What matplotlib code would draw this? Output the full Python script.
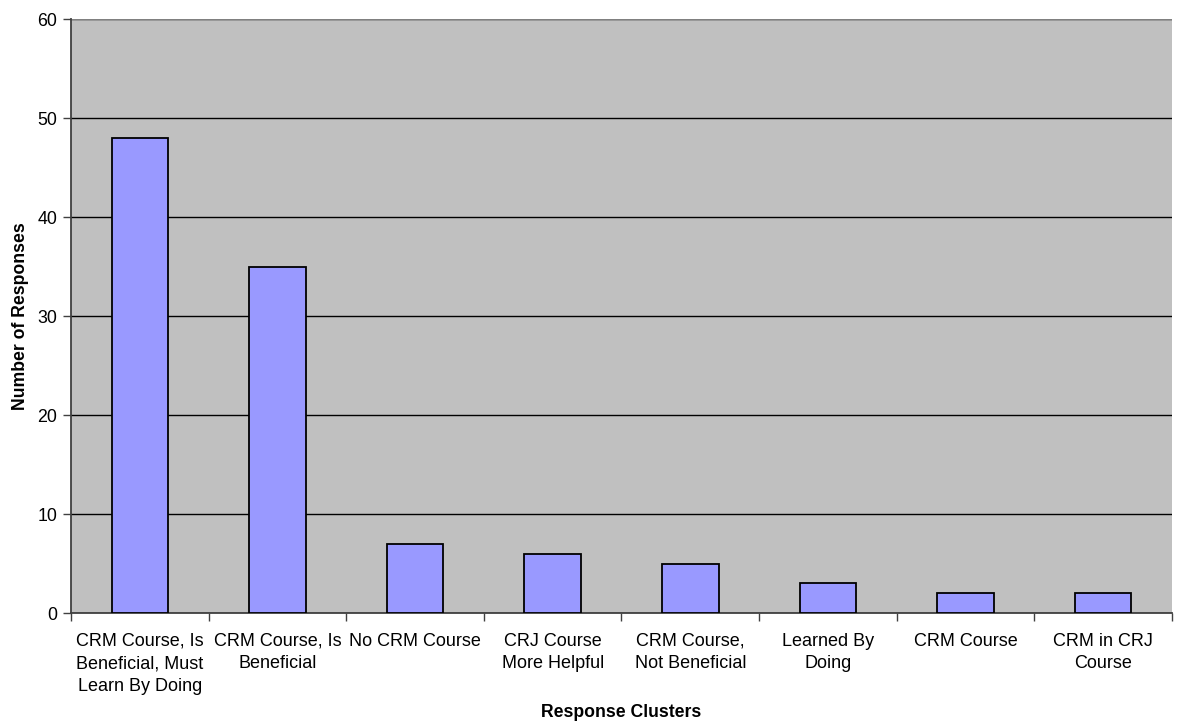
import numpy as np
import matplotlib.pyplot as plt

plt.rcParams['font.family'] = ['Liberation Sans', 'DejaVu Sans']

categories = ["CRM Course, Is\nBeneficial, Must\nLearn By Doing",
              "CRM Course, Is\nBeneficial",
              "No CRM Course",
              "CRJ Course\nMore Helpful",
              "CRM Course,\nNot Beneficial",
              "Learned By\nDoing",
              "CRM Course",
              "CRM in CRJ\nCourse"]
responses = [48, 35, 7, 6, 5, 3, 2, 2]
y_ticks = [0, 10, 20, 30, 40, 50, 60]

fig = plt.figure(figsize=(11.82, 7.23), dpi=100)
ax = fig.add_axes([0.0601, 0.152, 0.9314, 0.8217])
ax.set_facecolor('#C0C0C0')

x = np.arange(len(categories))
ax.bar(x, responses, width=0.41, color='#9999FF', edgecolor='black',
       linewidth=1.3, zorder=3)

ax.set_xlim(-0.5, len(categories) - 0.5)
ax.set_ylim(0, 60)
ax.set_yticks(y_ticks)
ax.yaxis.grid(True, color='black', linewidth=1, zorder=1)
ax.set_axisbelow(True)

# category labels sit between boundary ticks
ax.set_xticks(x)
ax.set_xticklabels(categories, fontsize=13, linespacing=1.43)
ax.tick_params(axis='x', length=0, pad=14)
ax.set_xticks(np.arange(len(categories) + 1) - 0.5, minor=True)
ax.tick_params(axis='x', which='minor', length=6, width=1, color='#404040')
ax.tick_params(axis='y', length=6, width=1, color='#404040', labelsize=12.8, pad=4)

for side in ['top', 'right']:
    ax.spines[side].set_visible(False)
ax.spines['left'].set_color('#404040')
ax.spines['bottom'].set_color('#404040')
ax.spines['left'].set_linewidth(1.3)
ax.spines['bottom'].set_linewidth(1.3)
ax.axhline(60, color='#808080', linewidth=1.5, zorder=2)

ax.set_xlabel('Response Clusters', fontsize=12.7, fontweight='bold', va='center')
ax.xaxis.set_label_coords(0.5, -0.1667)
ax.set_ylabel('Number of Responses', fontsize=12.7, fontweight='bold', labelpad=6)

fig.savefig('out.png', dpi=100)
